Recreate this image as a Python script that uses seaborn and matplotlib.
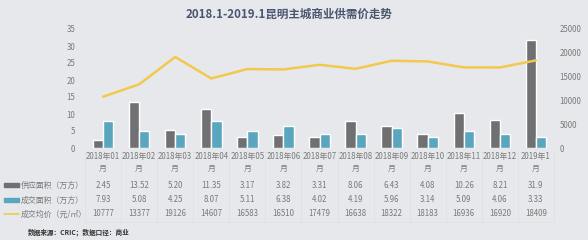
import matplotlib
matplotlib.use("Agg")
import matplotlib.pyplot as plt
import matplotlib.transforms as mtransforms
import pandas as pd
import seaborn as sns

months = ["2018年01", "2018年02", "2018年03", "2018年04", "2018年05", "2018年06",
          "2018年07", "2018年08", "2018年09", "2018年10", "2018年11", "2018年12", "2019年1"]
supply = [2.45, 13.52, 5.20, 11.35, 3.17, 3.82, 3.31, 8.06, 6.43, 4.08, 10.26, 8.21, 31.9]
deal = [7.93, 5.08, 4.25, 8.07, 5.11, 6.38, 4.02, 4.19, 5.96, 3.14, 5.09, 4.06, 3.33]
price = [10777, 13377, 19126, 14607, 16583, 16510, 17479, 16638, 18322, 18183, 16936, 16920, 18409]
supply_txt = ["2.45", "13.52", "5.20", "11.35", "3.17", "3.82", "3.31", "8.06", "6.43",
              "4.08", "10.26", "8.21", "31.9"]
deal_txt = ["7.93", "5.08", "4.25", "8.07", "5.11", "6.38", "4.02", "4.19", "5.96",
            "3.14", "5.09", "4.06", "3.33"]
names = ["供应面积（万方）", "成交面积（万方）", "成交均价（元/㎡）"]

bg = "#e7e8ec"
c_gray = "#707073"
c_teal = "#5aa6bf"
c_yel = "#f2c94c"
c_txt = "#7a7a7a"
fs = 5.7

sns.set_theme(style="white")
plt.rcParams["font.family"] = ["Noto Sans CJK SC", "DejaVu Sans"]

area = pd.DataFrame({"月份": months * 2,
                     "面积": supply + deal,
                     "类型": [names[0]] * 13 + [names[1]] * 13})
line = pd.DataFrame({"月份": months, "均价": price})

fig = plt.figure(figsize=(5.88, 2.4), dpi=100, facecolor=bg)
W, H = 588.0, 240.0
ax = fig.add_axes([85 / W, 1 - 148 / H, (554 - 85) / W, (148 - 29) / H])
ax.set_facecolor(bg)

sns.barplot(data=area, x="月份", y="面积", hue="类型", palette=[c_gray, c_teal],
            width=0.57, saturation=1, legend=False, ax=ax)
ax.set_ylim(0, 35)
ax.set_yticks(range(0, 36, 5))
ax.set_xlim(-0.5, 12.5)
ax.set_xlabel("")
ax.set_ylabel("")
ax.set_xticks(range(13))
ax.set_xticklabels([m + "\n月" for m in months], linespacing=1.35)
ax.tick_params(axis="both", length=0, labelsize=fs, labelcolor=c_txt)
ax.tick_params(axis="x", pad=3)
ax.tick_params(axis="y", pad=7)
for s in ax.spines.values():
    s.set_visible(False)

ax2 = ax.twinx()
sns.lineplot(data=line, x="月份", y="均价", sort=False, color=c_yel, linewidth=1.8, ax=ax2)
ax2.set_ylim(0, 25000)
ax2.set_yticks(range(0, 25001, 5000))
ax2.set_ylabel("")
ax2.set_xlabel("")
ax2.set_xlim(-0.5, 12.5)
ax2.tick_params(axis="y", length=0, labelsize=fs, labelcolor=c_txt, pad=4)
for s in ax2.spines.values():
    s.set_visible(False)

# data table under the axis
tr = mtransforms.blended_transform_factory(ax.transData, fig.transFigure)
rows_y = [185, 200, 214]
for i in range(13):
    for k, val in enumerate([supply_txt[i], deal_txt[i], str(price[i])]):
        ax.text(i, 1 - rows_y[k] / H, val, transform=tr, ha="center", va="center",
                fontsize=fs, color=c_txt)
for i in range(14):
    ax.plot([i - 0.5, i - 0.5], [1 - 150 / H, 1 - 222 / H], transform=tr, color="#dcdee3",
            linewidth=0.5, clip_on=False)
ax.plot([-0.5, 12.5], [1 - 222 / H, 1 - 222 / H], transform=tr, color="#dcdee3",
        linewidth=0.5, clip_on=False)

# row labels with legend keys
fig.patches.append(plt.Rectangle((4 / W, 1 - 187 / H), 15 / W, 4 / H, color=c_gray,
                                 transform=fig.transFigure))
fig.patches.append(plt.Rectangle((4 / W, 1 - 202 / H), 15 / W, 4 / H, color=c_teal,
                                 transform=fig.transFigure))
fig.lines.append(plt.Line2D([4 / W, 19 / W], [1 - 214 / H, 1 - 214 / H], color=c_yel,
                            linewidth=1.2, transform=fig.transFigure))
for k in range(3):
    fig.text(21 / W, 1 - rows_y[k] / H, names[k], ha="left", va="center", fontsize=fs,
             color=c_txt)

fig.text(0.492, 1 - 14 / H, "2018.1-2019.1昆明主城商业供需价走势", ha="center", va="center",
         fontsize=8.3, fontweight="bold", color="#4a5570")
fig.text(28 / W, 1 - 232 / H, "数据来源：CRIC；数据口径：商业", ha="left", va="center",
         fontsize=4.8, fontweight="bold", color="#333333")

fig.savefig("out.png", dpi=100, facecolor=bg)
